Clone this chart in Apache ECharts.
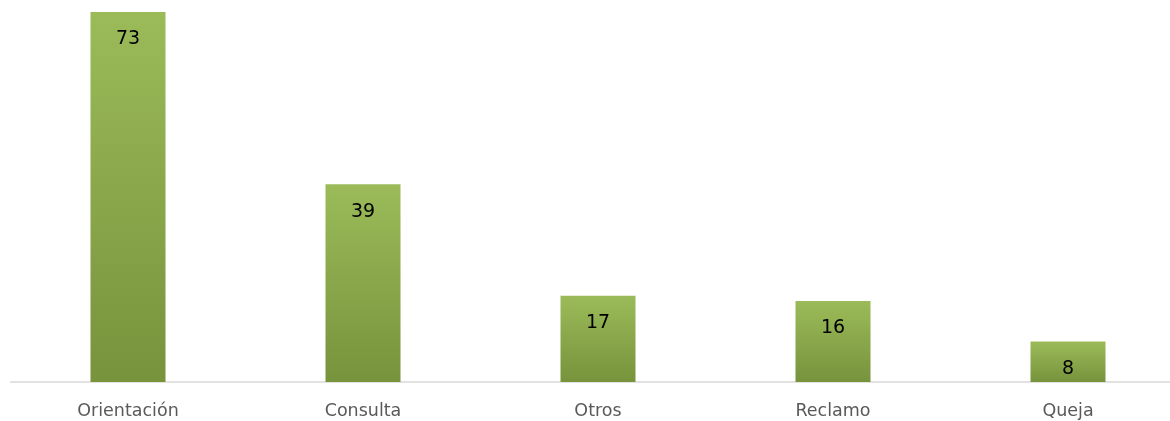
<!DOCTYPE html>
<html>
<head>
<meta charset="utf-8">
<script src="https://cdn.jsdelivr.net/npm/echarts@6/dist/echarts.min.js"></script>
<style>html,body{margin:0;padding:0;background:#fff;}#c{width:1170px;height:421px;}</style>
</head>
<body>
<div id="c"></div>
<script>
const categories = ["Orientación", "Consulta", "Otros", "Reclamo", "Queja"];
const values = [73, 39, 17, 16, 8];

const chart = echarts.init(document.getElementById('c'), null, {renderer: 'canvas'});
chart.setOption({
  animation: false,
  grid: {left: 10.5, top: 12, right: -15.5, bottom: 39, outerBoundsMode: 'none', containLabel: false},
  xAxis: {
    type: 'category',
    data: categories,
    axisLine: {lineStyle: {color: '#d9d9d9', width: 1.5}},
    axisTick: {show: false},
    axisLabel: {color: '#595959', fontSize: 17.5, fontFamily: 'DejaVu Sans', margin: 20}
  },
  yAxis: {type: 'value', min: 0, max: 73, show: false, splitLine: {show: false}},
  series: [{
    type: 'bar',
    data: values,
    barWidth: 75,
    itemStyle: {
      color: new echarts.graphic.LinearGradient(0, 0, 0, 1, [
        {offset: 0, color: '#9bbb59'},
        {offset: 1, color: '#77933c'}
      ])
    },
    label: {show: true, position: 'insideTop', distance: 18, color: '#000', fontSize: 19, fontFamily: 'DejaVu Sans'}
  }]
});
</script>
</body>
</html>
